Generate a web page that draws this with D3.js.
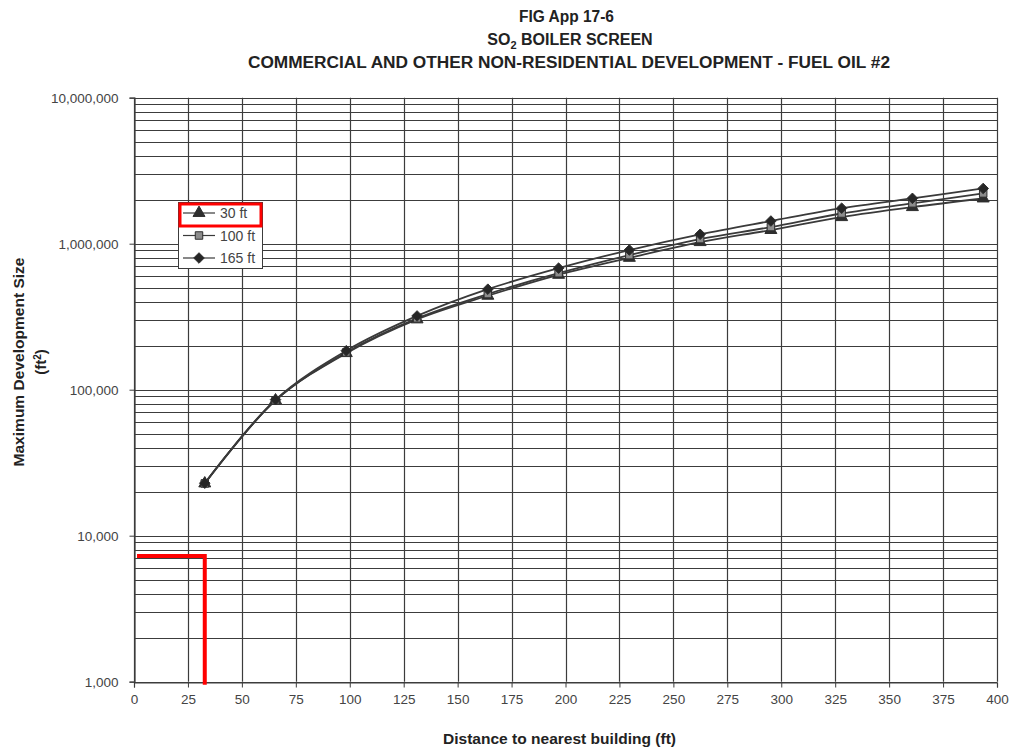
<!DOCTYPE html>
<html>
<head>
<meta charset="utf-8">
<script src="https://cdn.jsdelivr.net/npm/d3@7"></script>
<style>
  body { margin: 0; background: #fff; }
  svg { font-family: Arial, "Liberation Sans", sans-serif; }
</style>
</head>
<body>
<svg id="chart" width="1012" height="750"></svg>
<script>
// distance to nearest building (ft) - every 10 m
var distances = [32.8, 65.6, 98.4, 131.2, 164.0, 196.8, 229.6, 262.4, 295.2, 328.0, 360.8, 393.6];
// maximum development size (ft2) per stack height
var ft30  = [22800, 84500, 178000, 303000, 440000, 612000, 800000, 1025000, 1240000, 1520000, 1780000, 2040000];
var ft100 = [22800, 84500, 180000, 308000, 452000, 628000, 835000, 1075000, 1300000, 1610000, 1890000, 2210000];
var ft165 = [22900, 85500, 185000, 320000, 488000, 680000, 905000, 1160000, 1430000, 1750000, 2045000, 2390000];
var seriesNames = ["30 ft", "100 ft", "165 ft"];
var xTicks = [0, 25, 50, 75, 100, 125, 150, 175, 200, 225, 250, 275, 300, 325, 350, 375, 400];
var yTicks = [1000, 10000, 100000, 1000000, 10000000];
// red marker: 10 m distance, size
var markDist = 32.8, markSize = 7250;

var svg = d3.select('#chart');
var pLeft = 134, pRight = 997, pTop = 97.7, pBottom = 681.7;

var x = d3.scaleLinear().domain([0, 400]).range([pLeft, pRight]);
var y = d3.scaleLog().domain([1000, 10000000]).range([pBottom, pTop]);

// gridlines
var grid = svg.append('g').attr('stroke', '#3c3c3c').attr('stroke-width', 1.2);
var hLines = [];
for (var p = 3; p < 7; p++) {
    for (var k = 1; k < 10; k++) hLines.push(k * Math.pow(10, p));
}
hLines.push(10000000);
grid.selectAll('.h').data(hLines).enter().append('line')
    .attr('x1', pLeft).attr('x2', pRight)
    .attr('y1', function(d) { return Math.round(y(d)) + 0.5; })
    .attr('y2', function(d) { return Math.round(y(d)) + 0.5; });
grid.selectAll('.v').data(xTicks).enter().append('line')
    .attr('y1', pTop).attr('y2', pBottom)
    .attr('x1', function(d) { return Math.round(x(d)) + 0.5; })
    .attr('x2', function(d) { return Math.round(x(d)) + 0.5; });

// axes
var xAxis = svg.append('g').attr('transform', 'translate(0,' + (Math.round(pBottom) + 0.5) + ')')
    .call(d3.axisBottom(x).tickValues(xTicks).tickSize(5).tickPadding(7));
var yAxis = svg.append('g').attr('transform', 'translate(' + (pLeft + 0.5) + ',0)')
    .call(d3.axisLeft(y).tickValues(yTicks).tickSize(5).tickPadding(11).tickFormat(d3.format(',')));
[xAxis, yAxis].forEach(function(a) {
    a.select('.domain').attr('stroke', '#3c3c3c').attr('stroke-width', 1.2);
    a.selectAll('.tick line').attr('stroke', '#3c3c3c');
    a.selectAll('.tick text').attr('fill', '#444').style('font-size', '13.5px')
        .style('font-family', 'Arial, "Liberation Sans", sans-serif');
});

// series
var series = [ft30, ft100, ft165];
var line = d3.line()
    .x(function(d, i) { return x(distances[i]); })
    .y(function(d) { return y(d); })
    .curve(d3.curveCatmullRom);
svg.append('g').selectAll('path').data(series).enter().append('path')
    .attr('d', line).attr('fill', 'none')
    .attr('stroke', '#3a3a3a').attr('stroke-width', 1.8);

// square turned 45 degrees, as in the spreadsheet marker
var wideDiamond = {
    draw: function(ctx, size) {
        var r = Math.sqrt(size / 2);
        ctx.moveTo(0, -r); ctx.lineTo(r, 0); ctx.lineTo(0, r); ctx.lineTo(-r, 0); ctx.closePath();
    }
};
var shapes = [d3.symbolTriangle, d3.symbolSquare, wideDiamond];
var sizes = [62, 56, 56];
var fills = ['#2e2e2e', '#8c8c8c', '#262626'];
function marker(sel, s) {
    sel.attr('d', d3.symbol().type(shapes[s]).size(sizes[s])())
        .attr('fill', fills[s]).attr('stroke', '#2e2e2e').attr('stroke-width', 1);
}
series.forEach(function(vals, s) {
    svg.append('g').selectAll('path').data(vals).enter().append('path')
        .attr('transform', function(d, i) { return 'translate(' + x(distances[i]) + ',' + y(d) + ')'; })
        .each(function() { marker(d3.select(this), s); });
});

// red screening mark
svg.append('path')
    .attr('d', 'M' + x(1.4) + ',' + y(markSize) + 'H' + x(markDist) + 'V' + (pBottom + 3))
    .attr('fill', 'none').attr('stroke', '#ff0000').attr('stroke-width', 4);

// legend
var lg = svg.append('g');
lg.append('rect').attr('x', 178.5).attr('y', 202.5).attr('width', 84).attr('height', 66)
    .attr('fill', '#fff').attr('stroke', '#3c3c3c');
seriesNames.forEach(function(name, s) {
    var ly = 213 + s * 22.5;
    lg.append('line').attr('x1', 183).attr('x2', 215).attr('y1', ly).attr('y2', ly)
        .attr('stroke', '#3a3a3a').attr('stroke-width', 1.2);
    lg.append('path').attr('transform', 'translate(199,' + ly + ')')
        .call(function(sel) { marker(sel, s); });
    lg.append('text').attr('x', 220).attr('y', ly + 5).attr('fill', '#444')
        .style('font-size', '14px').text(name);
});
lg.append('rect').attr('x', 180).attr('y', 204).attr('width', 81).attr('height', 22)
    .attr('fill', 'none').attr('stroke', '#ff0000').attr('stroke-width', 3);

// titles
var title = svg.append('g').attr('text-anchor', 'middle').attr('font-weight', 'bold')
    .style('font-size', '16px').attr('fill', '#222');
title.append('text').attr('x', 566.5).attr('y', 22)
    .attr('textLength', 95).attr('lengthAdjust', 'spacingAndGlyphs').text('FIG App 17-6');
var t2 = title.append('text').attr('x', 570).attr('y', 45);
t2.append('tspan').text('SO');
t2.append('tspan').attr('dy', 4).style('font-size', '11px').text('2');
t2.append('tspan').attr('dy', -4).text(' BOILER SCREEN');
title.append('text').attr('x', 569).attr('y', 68)
    .attr('textLength', 642).attr('lengthAdjust', 'spacingAndGlyphs')
    .text('COMMERCIAL AND OTHER NON-RESIDENTIAL DEVELOPMENT - FUEL OIL #2');

svg.append('text').attr('x', 559.5).attr('y', 744).attr('text-anchor', 'middle')
    .attr('font-weight', 'bold').style('font-size', '15px').attr('fill', '#222')
    .attr('textLength', 233).attr('lengthAdjust', 'spacingAndGlyphs')
    .text('Distance to nearest building (ft)');

var yl = svg.append('g').attr('transform', 'translate(0,362) rotate(-90)')
    .attr('text-anchor', 'middle').attr('font-weight', 'bold').attr('fill', '#222')
    .style('font-size', '15px');
yl.append('text').attr('x', 0).attr('y', 24)
    .attr('textLength', 209).attr('lengthAdjust', 'spacingAndGlyphs')
    .text('Maximum Development Size');
var ftl = yl.append('text').attr('x', 0).attr('y', 46);
ftl.append('tspan').text('(ft');
ftl.append('tspan').attr('dy', -5).style('font-size', '10px').text('2');
ftl.append('tspan').attr('dy', 5).text(')');
</script>
</body>
</html>
